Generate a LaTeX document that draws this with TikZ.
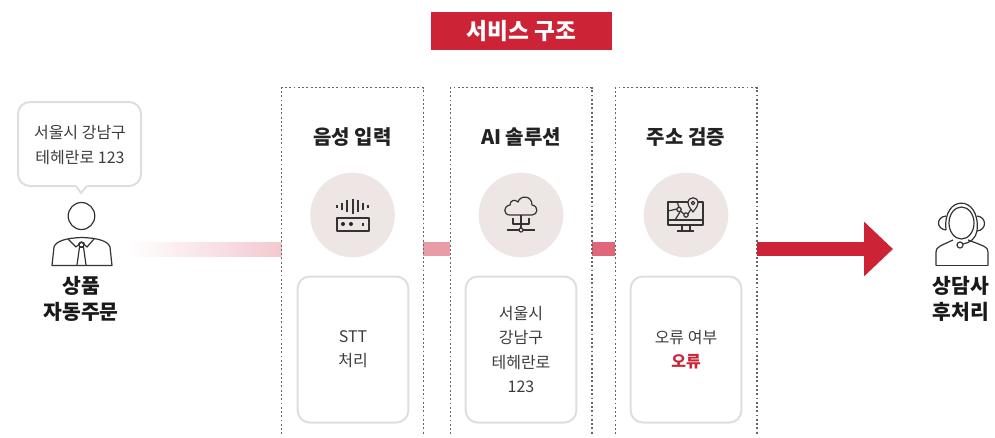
\documentclass[tikz,border=0pt]{standalone}
\usepackage{fontspec}
\setmainfont{Noto Sans CJK KR}
\usetikzlibrary{arrows.meta,positioning}
\definecolor{brandred}{HTML}{CC2336}
\definecolor{softgrey}{HTML}{DEDEDE}
\definecolor{iconbg}{HTML}{EEE6E4}
\definecolor{inktext}{HTML}{222222}
\definecolor{bodytext}{HTML}{3C3C3C}
\definecolor{linkA}{HTML}{F3C9CF}
\definecolor{linkB}{HTML}{E79CA6}
\definecolor{linkC}{HTML}{E0667A}
\tikzset{banner/.style={fill=brandred, text=white, inner sep=0pt, minimum width=135.75pt, minimum height=28.5pt, font=\fontsize{17}{20}\selectfont\bfseries},
	panelarea/.style={inner sep=0pt, minimum width=105.75pt, minimum height=259.5pt},
	dotline/.style={draw=black!60, dash pattern=on 1.4pt off 1.8pt, line width=1.1pt},
	stagetitle/.style={text=inktext, font=\fontsize{15}{18}\selectfont\bfseries},
	iconback/.style={fill=iconbg, circle, inner sep=0pt, minimum size=63.5pt},
	resultbox/.style={draw=softgrey, line width=1.5pt, rounded corners=9pt, align=center, text=bodytext, minimum width=83pt, minimum height=109.5pt, inner sep=0pt, font=\fontsize{12}{18.2}\selectfont, execute at begin node=\vspace*{2.5pt}},
	bubbletext/.style={align=center, text=bodytext, inner sep=0pt, font=\fontsize{12}{18}\selectfont},
	actorlabel/.style={align=center, text=black!90, inner sep=0pt, font=\fontsize{15.3}{19.5}\selectfont\bfseries},
	icon/.style={draw=black!80, line width=0.9pt, line join=round},
	band/.style={line width=10.5pt}}
\begin{document}
\begin{tikzpicture}[x=0.75pt,y=-0.75pt]
	\useasboundingbox (0,0) rectangle (995,437);
	\node[banner] (title) at (521.5,31) {서비스 구조};
	\foreach \p/\x/\t in {input/352.5/음성 입력,solution/521/AI 솔루션,address/686/주소 검증}
	{
		\node[panelarea] (\p) at (\x,261) {};
		\node[stagetitle] (\p title) at (\x,137) {\t};
		\node[iconback] (\p icon) at (\x,215) {};
	}
	\coordinate (link) at (0,249);
	\coordinate (fade) at (128,242);
	\coordinate (fadeend) at (input.west |- 0,256);
	\shade[left color=white, right color=linkA] (fade) rectangle (fadeend);
	\draw[band, linkB] (input.east |- link) -- (solution.west |- link);
	\draw[band, linkC] (solution.east |- link) -- (address.west |- link);
	\foreach \p in {input,solution,address}
	\draw[dotline] (\p.south west) -- (\p.north west) -- (\p.north east) -- (\p.south east);
	\node[resultbox] (inputbox) at (353,349.5) {STT\\처리};
	\node[resultbox] (solutionbox) at (521,349.5) {서울시\\강남구\\테헤란로\\123};
	\node[resultbox] (addressbox) at (686,349.5) {오류 여부\\{\bfseries\color{brandred}오류}};
	
	\node[bubbletext] (bubble) at (80,145) {서울시 강남구\\테헤란로 123};
	\draw[softgrey, line width=1.5pt] (76,186) -- (81,193) -- (87,186);
	\draw[softgrey, line width=1.5pt, rounded corners=9pt] (76,186) -- (18,186) -- (18,102) -- (141,102) -- (141,186) -- (87,186);
	\node[actorlabel] (customer) at (81,298.5) {상품\\자동주문};
	\node[actorlabel] (agent) at (961,298.5) {상담사\\후처리};
	
	\draw[icon] (81.5,216) ellipse (13.3 and 13.5);
	\draw[icon] (52,265.5) -- (112,265.5) -- (110,247) .. controls (108,241) and (98,238) .. (82,237.5) .. controls (66,238) and (56,241) .. (54,247) -- cycle;
	\draw[icon] (68,239) -- (76,247) -- (81.5,242) -- (87,247) -- (94,239);
	\draw[icon] (79,243) -- (81.5,242) -- (84,243) -- (83.5,247) -- (86,265);
	\draw[icon] (79,243) -- (79.5,247) -- (77,265);
	\draw[icon] (79.5,247) -- (83.5,247);
	
	\draw[icon] (961.5,223) ellipse (12.5 and 16);
	\draw[icon] (946,230) .. controls (942,194) and (981,194) .. (977,231) .. controls (976,238) and (970,243) .. (963,244);
	\draw[icon] (946,216) .. controls (936,217) and (936,229) .. (946,230);
	\draw[icon] (977,216) .. controls (987,217) and (987,230) .. (977,231);
	\draw[icon] (960,245) circle (3);
	\draw[icon] (936,265.5) -- (936,252) .. controls (936,247) and (940,246) .. (953,240);
	\draw[icon] (988,265.5) -- (988,252) .. controls (988,247) and (984,246) .. (968,240);
	\draw[icon] (936,265.5) -- (988,265.5);
	
	\foreach \x/\h in {337/1.5,342/3.5,347/6,353/7.5,358/6,363/3.5,368/1.5}
	\draw[icon] (\x,206-\h) -- (\x,206+\h);
	\draw[icon] (337,218) rectangle (369,231);
	\foreach \x in {343,351}
	\fill[black!85] (\x,224) circle (2);
	\draw[icon] (363,222.5) -- (363,225.5);
	
	\draw[icon] (510,215) .. controls (503,215) and (503,206) .. (510,205) .. controls (510,200) and (515,199) .. (518,202) .. controls (520,195) and (532,195) .. (532,205) .. controls (539,206) and (538,215) .. (532,215) -- cycle;
	\draw[icon] (513,218) -- (513,224) -- (529,224) -- (529,218);
	\draw[icon] (521,215) -- (521,228);
	\draw[icon] (521,230) circle (2);
	\draw[icon] (507,230) -- (519,230);
	\draw[icon] (523,230) -- (535,230);
	
	\draw[icon] (688,202) -- (668,202) -- (668,225) -- (703,225) -- (703,202) -- (698,202);
	\draw[icon] (668,220) -- (703,220);
	\draw[icon] (682,225) -- (682,231);
	\draw[icon] (690,225) -- (690,231);
	\draw[icon] (677,231) -- (694,231);
	\draw[icon] (693,212) .. controls (689,207) and (688,205) .. (688,203) .. controls (688,196) and (698,196) .. (698,203) .. controls (698,205) and (697,207) .. (693,212) -- cycle;
	\draw[icon] (693,203) circle (1.8);
	\draw[icon] (679,209.5) circle (2.2);
	\draw[icon] (686,215) circle (2.2);
	\draw[icon] (680.5,211) -- (684,214);
	\draw[icon] (688,214) -- (691,209);
	\draw[icon] (677,202) -- (679,207);
	\draw[icon] (668,211) -- (677,209);
	\draw[icon] (680,212) -- (675,220);
	
	\draw[band, brandred, -{Triangle[length=21.75pt,width=39.75pt]}] (address.east |- link) -- (893,249);
\end{tikzpicture}
\end{document}
